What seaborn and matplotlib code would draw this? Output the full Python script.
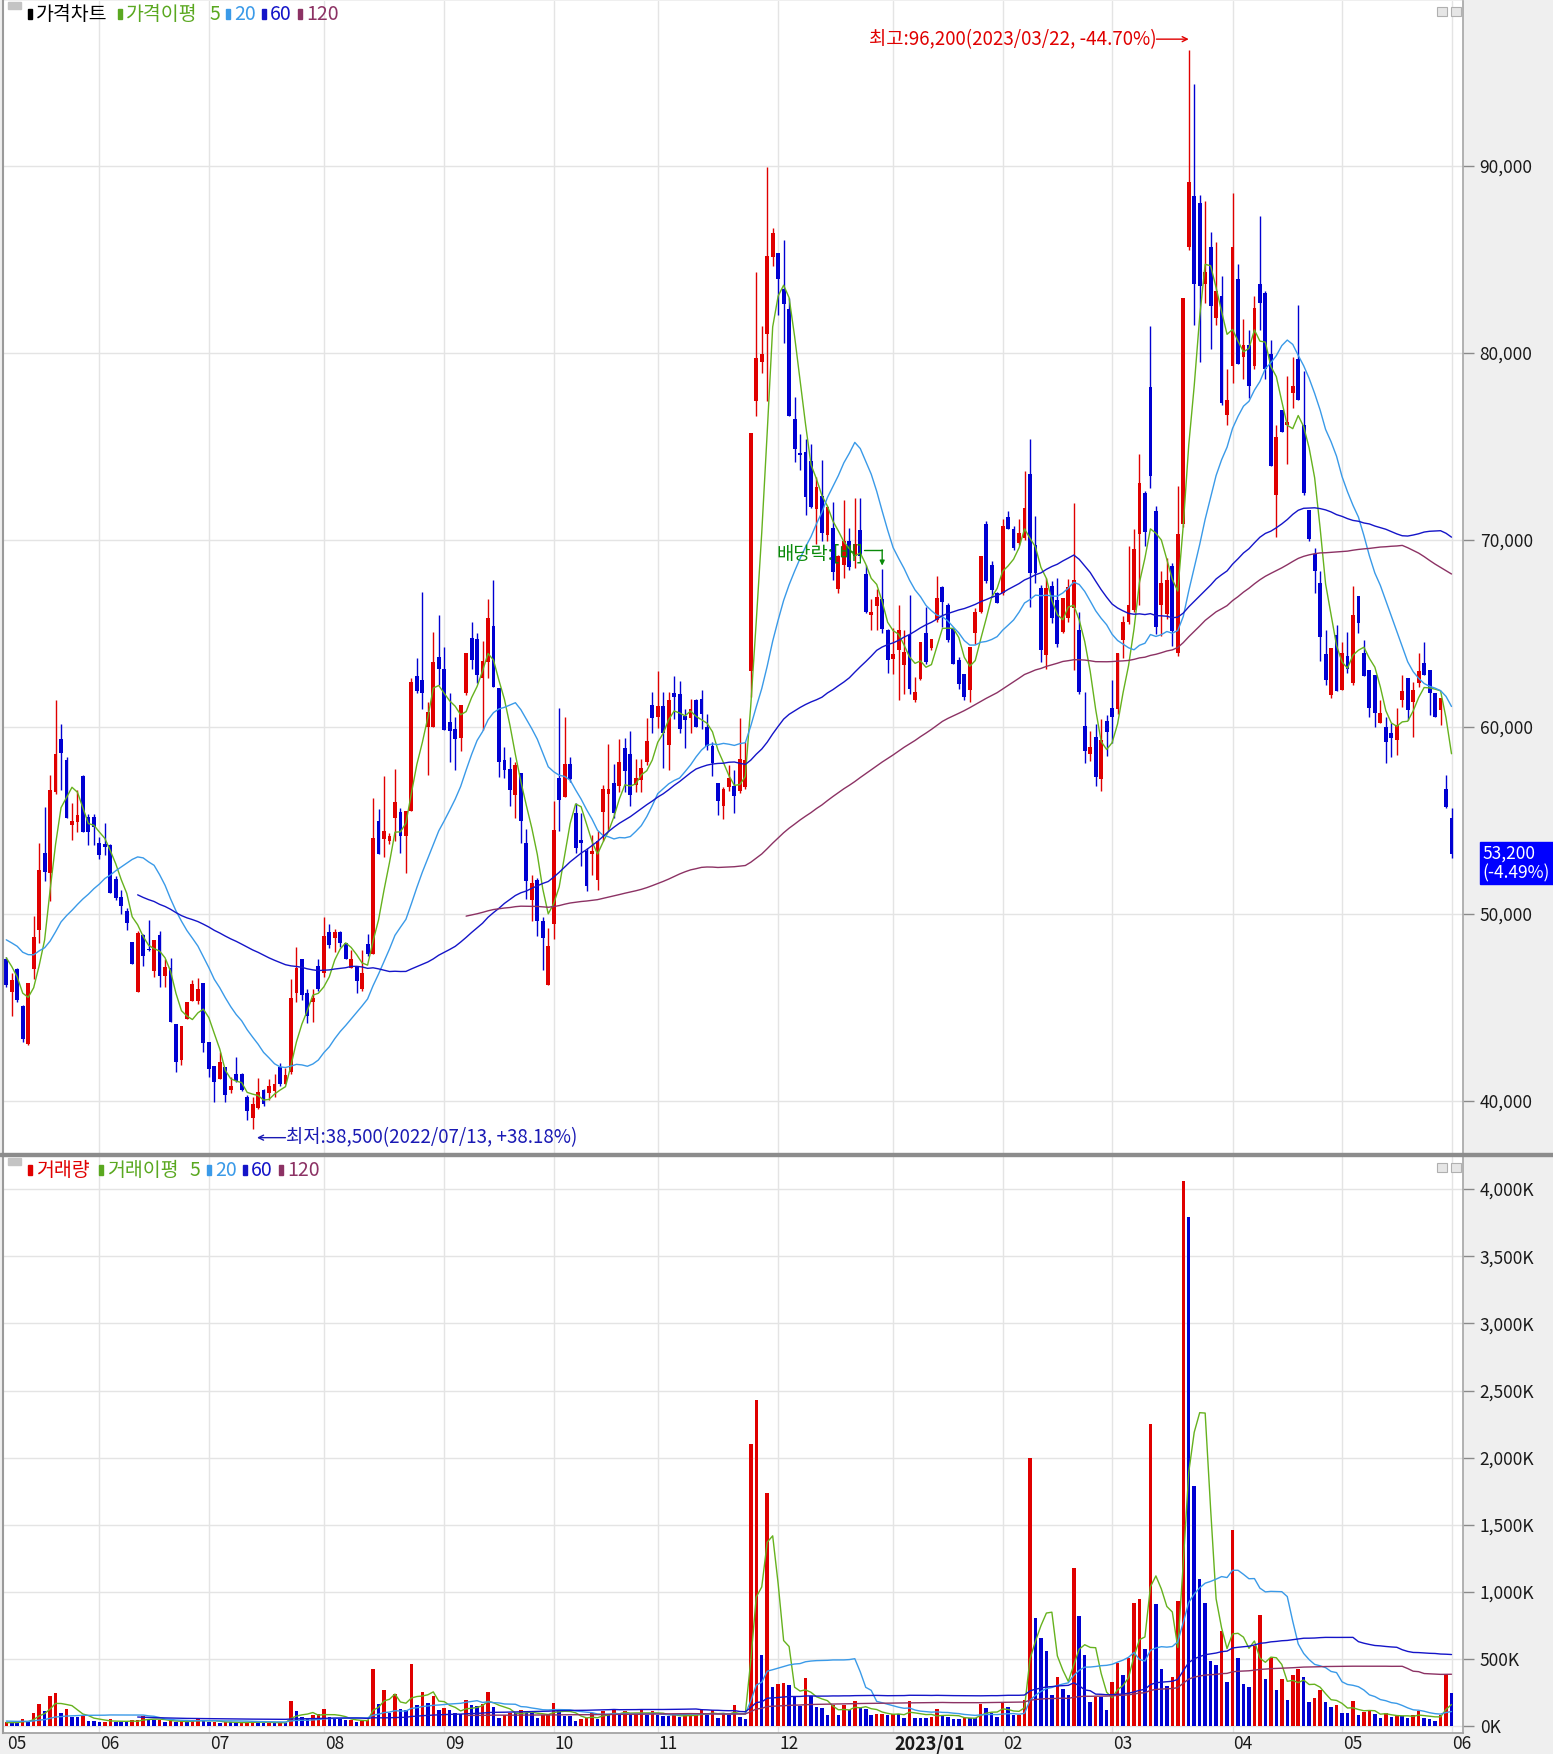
import numpy as np
import pandas as pd
import matplotlib
matplotlib.use("Agg")
import matplotlib.pyplot as plt
from matplotlib.patches import Rectangle
import seaborn as sns

# ------------------------------------------------------------------ data
open_prices = [
    47600, 45820, 47060, 45070, 43030, 47020, 49110, 53230, 52160, 56510,
    59340, 58190, 54730, 54910, 57340, 55180, 55180, 53790, 53720, 53670,
    51840, 50890, 50120, 48490, 45820, 48880, 48120, 46930, 48880, 46670,
    47110, 44100, 42150, 44360, 45340, 45340, 46280, 43150, 41840, 41170,
    41800, 40550, 41450, 41450, 40210, 39060, 39600, 40590, 40400, 40500,
    41780, 40880, 41550, 45760, 47570, 45760, 45280, 47190, 46810, 49000,
    48720, 49040, 48430, 47100, 47190, 45950, 48390, 47860, 54970, 53980,
    53880, 55120, 55410, 54170, 55510, 62680, 62490, 60000, 60000, 63730,
    63100, 60230, 59880, 59380, 61780, 64750, 64680, 62580, 63470, 65390,
    62050, 58220, 57740, 56350, 57510, 53770, 50750, 51820, 49600, 46210,
    49420, 57240, 56210, 58010, 55370, 53950, 53330, 53190, 51820, 55460,
    56420, 56980, 56800, 58840, 58520, 56890, 57150, 58130, 61160, 60500,
    61100, 59000, 61800, 61730, 60580, 60460, 61430, 61500, 60000, 58960,
    56960, 55740, 56770, 56820, 56540, 56770, 63000, 77400, 79470, 80970,
    85120, 85300, 83390, 82350, 76470, 74630, 74700, 74200, 71640, 72330,
    70250, 70600, 67370, 68640, 69910, 69100, 70530, 68180, 65990, 66450,
    66800, 65180, 63640, 64090, 63280, 64890, 61400, 62560, 64980, 64180,
    65700, 67490, 66510, 65200, 63550, 62830, 61940, 64980, 66150, 70810,
    68660, 67170, 67130, 71220, 70540, 69820, 70090, 73490, 69730, 67400,
    63820, 67530, 66770, 65070, 65790, 66330, 65160, 60050, 58530, 59430,
    57190, 60300, 60980, 60920, 64620, 65610, 66250, 70290, 72500, 78140,
    71530, 66510, 66000, 68600, 63910, 70810, 85630, 88360, 88020, 83680,
    85630, 81860, 83030, 76660, 79260, 83940, 79780, 80430, 79260, 83680,
    83160, 79910, 72370, 76920, 76140, 77830, 79650, 76140, 71590, 69250,
    67690, 63870, 61700, 64910, 61960, 63750, 62320, 67000, 63960, 63040,
    62770, 60180, 60000, 59640, 59290, 61430, 62590, 61340, 62320, 63390,
    63040, 61820, 60890, 56640, 55090]
high_prices = [
    47700, 46850, 47100, 45100, 46300, 49860, 53760, 55710, 57390, 61420,
    60140, 58400, 55890, 56630, 57400, 55350, 55350, 54110, 54820, 53700,
    51990, 51280, 50300, 48500, 49060, 48900, 49680, 48600, 49060, 47550,
    47640, 44100, 43970, 45250, 46450, 46580, 46280, 43150, 41840, 42590,
    41800, 41260, 42320, 41500, 40300, 40210, 41200, 40600, 41160, 41450,
    42030, 41740, 46520, 48240, 47570, 45950, 45950, 47570, 49810, 49430,
    49200, 49050, 48450, 48050, 47200, 48050, 48910, 56180, 55600, 57380,
    54300, 57710, 55660, 55510, 62580, 63690, 67210, 61340, 65070, 65980,
    64270, 61780, 60530, 61160, 63910, 65570, 64980, 64570, 66850, 67830,
    62050, 58930, 58400, 58130, 57510, 54500, 52080, 51900, 49800, 49240,
    56000, 60980, 60530, 58400, 55910, 55370, 53510, 54220, 54400, 56900,
    59060, 58010, 59340, 59380, 59790, 58260, 58270, 60440, 61830, 63000,
    61830, 61840, 62700, 62420, 60920, 61500, 61450, 61960, 60690, 59190,
    56970, 56770, 57930, 57700, 60460, 59190, 75710, 84310, 81430, 89950,
    86680, 85300, 86040, 82930, 77630, 75670, 75400, 75100, 73360, 74240,
    71800, 72030, 69150, 72100, 70600, 72210, 72210, 68640, 66800, 67370,
    68410, 65200, 65250, 66510, 65160, 67040, 62650, 64530, 66420, 64710,
    68030, 67500, 66600, 65200, 63730, 62830, 64270, 66330, 69100, 70990,
    68840, 67200, 71110, 71520, 70720, 71110, 73670, 75380, 71250, 67580,
    67940, 67760, 67940, 66900, 67900, 71940, 66150, 61850, 59790, 60140,
    60410, 60600, 62480, 63910, 65920, 69640, 70550, 74580, 72600, 81420,
    71790, 68340, 68990, 68730, 72890, 82900, 96200, 94340, 88440, 88100,
    86460, 85890, 84070, 79130, 88540, 84720, 81780, 81210, 83030, 87320,
    83290, 80690, 76140, 76950, 78740, 79780, 82560, 79000, 71600, 69550,
    68340, 65160, 64200, 65450, 64500, 65040, 67500, 67000, 64640, 63040,
    62770, 61430, 60540, 60180, 60980, 62770, 62600, 62410, 63960, 64550,
    63040, 61820, 61520, 57410, 55630]
low_prices = [
    46100, 44540, 45300, 43150, 43000, 46490, 48440, 51720, 50660, 56400,
    56600, 55090, 53940, 54380, 54380, 53670, 53670, 52910, 53140, 51100,
    50740, 50000, 49110, 47290, 45800, 47200, 48000, 46630, 46050, 46050,
    44180, 41530, 41910, 44360, 45340, 45160, 42590, 41260, 39930, 41170,
    39950, 40400, 40970, 40500, 38970, 38500, 39540, 39700, 40020, 40210,
    40780, 40880, 41450, 45280, 45370, 44130, 44230, 45850, 46620, 48150,
    47950, 48240, 47570, 47100, 45760, 45850, 47760, 47860, 53210, 53020,
    53700, 53880, 53250, 52160, 55510, 61820, 60960, 57420, 60000, 62200,
    59820, 58130, 57690, 58670, 61700, 63080, 62310, 59820, 62580, 62130,
    57330, 57240, 55730, 55110, 53770, 50800, 49590, 48800, 47010, 46210,
    48620, 54400, 56210, 57060, 53240, 52530, 51190, 52080, 51280, 53860,
    54400, 55110, 56530, 56530, 55730, 56530, 56530, 57950, 59640, 59950,
    57810, 57700, 60400, 59650, 58850, 59650, 60000, 59880, 58730, 57350,
    55280, 55050, 56540, 55390, 56430, 56660, 61610, 76590, 78890, 77400,
    84650, 82000, 80510, 76590, 74170, 73710, 71290, 71700, 69790, 69910,
    69900, 67830, 67140, 67950, 68400, 68500, 68990, 66100, 65180, 65180,
    65000, 62880, 62830, 61400, 61760, 61760, 61310, 62500, 63370, 64100,
    65610, 65340, 64530, 63370, 62030, 61430, 61310, 64440, 66060, 67670,
    66950, 66630, 67040, 70540, 69460, 69730, 70000, 66420, 67670, 63460,
    63100, 65520, 64270, 65000, 65600, 63010, 61760, 58080, 58170, 56830,
    56560, 58450, 59100, 60660, 63650, 65480, 66120, 66520, 69640, 72760,
    64950, 64820, 65740, 64300, 63780, 70680, 85500, 81470, 79520, 82640,
    80170, 81470, 77180, 76140, 78350, 79390, 78610, 77570, 79130, 81210,
    78610, 73930, 70160, 75750, 74060, 77050, 77440, 72370, 69900, 67170,
    63520, 62220, 61520, 61880, 61960, 62860, 62230, 65000, 62680, 60540,
    60000, 60180, 58040, 58390, 58480, 61070, 60360, 59460, 62140, 62770,
    60630, 60540, 60090, 55630, 52950]
close_prices = [
    46200, 46450, 45390, 43300, 46280, 48760, 52340, 52250, 56600, 58550,
    58580, 55090, 54960, 55270, 54380, 54380, 54650, 53140, 53580, 51100,
    50830, 50430, 49500, 47290, 48970, 47730, 48050, 48580, 46670, 47160,
    44180, 42060, 43970, 45250, 46220, 45960, 43070, 41700, 40990, 42060,
    40300, 40800, 41070, 40590, 39450, 39830, 40440, 39830, 40780, 40880,
    40880, 41360, 45470, 47100, 45660, 44510, 45470, 45950, 48810, 48340,
    49040, 48430, 47570, 47570, 46420, 46810, 47860, 54020, 53210, 54400,
    54170, 55970, 54130, 55510, 62390, 61910, 61820, 60760, 63440, 63060,
    59820, 59790, 59340, 61160, 63910, 63560, 62760, 63500, 65820, 62130,
    58130, 57690, 56620, 57950, 54930, 51730, 51640, 49600, 48700, 48260,
    54490, 56090, 58010, 57210, 53510, 53770, 51460, 53330, 53860, 56670,
    56670, 55370, 58130, 57600, 56350, 57240, 57780, 59240, 60440, 61100,
    59650, 61400, 61600, 59880, 60350, 60920, 60000, 60690, 58960, 58040,
    56040, 56660, 57230, 56310, 58270, 58200, 75700, 79700, 79930, 85160,
    86380, 83960, 82580, 76590, 74860, 74520, 72300, 71750, 72790, 70370,
    71750, 68290, 69100, 69910, 68530, 69790, 69100, 66110, 66110, 66910,
    65200, 63570, 63870, 65160, 64000, 62030, 61850, 64530, 63460, 64710,
    66860, 66680, 64620, 63370, 62290, 61580, 64270, 66150, 69100, 67760,
    67310, 66630, 70720, 70540, 69550, 70360, 71700, 68210, 68210, 64090,
    67400, 65790, 64440, 66860, 67490, 67850, 61850, 58710, 58890, 57280,
    59300, 59700, 60530, 63910, 65610, 66510, 69510, 73020, 70420, 73410,
    65350, 67690, 67820, 65090, 70290, 82900, 89140, 83680, 83550, 84330,
    82510, 83290, 77310, 77440, 85630, 79390, 80430, 78220, 82380, 82640,
    79130, 73930, 75490, 75750, 76270, 78220, 77440, 72500, 70030, 68340,
    64780, 62490, 64200, 61880, 63960, 63070, 65980, 65540, 62680, 60980,
    60710, 60710, 59200, 59380, 60090, 61880, 60890, 61960, 62950, 62770,
    61790, 60540, 61520, 55700, 53200]
volume_k = [
    33, 33, 25, 58, 33, 103, 170, 113, 225, 245,
    100, 133, 70, 70, 88, 43, 38, 33, 35, 58,
    33, 33, 30, 45, 50, 78, 53, 45, 47, 30,
    45, 33, 38, 33, 45, 60, 38, 33, 35, 28,
    33, 30, 25, 28, 33, 40, 30, 25, 28, 22,
    35, 25, 188, 113, 70, 63, 83, 90, 133, 70,
    60, 55, 45, 48, 35, 40, 45, 428, 165, 270,
    103, 238, 133, 120, 463, 158, 258, 178, 228, 120,
    138, 120, 103, 95, 200, 158, 150, 170, 258, 145,
    65, 83, 103, 103, 120, 103, 103, 63, 83, 90,
    178, 133, 78, 78, 40, 58, 63, 103, 58, 113,
    83, 133, 83, 113, 83, 90, 133, 83, 113, 83,
    80, 78, 85, 70, 83, 86, 88, 120, 83, 120,
    63, 103, 83, 158, 70, 58, 2100, 2430, 532, 1735,
    295, 313, 320, 310, 220, 153, 358, 228, 145, 140,
    88, 158, 88, 158, 120, 188, 138, 130, 83, 90,
    95, 88, 95, 95, 63, 188, 63, 63, 63, 70,
    133, 78, 70, 58, 58, 63, 63, 63, 165, 138,
    101, 68, 178, 145, 82, 88, 200, 1996, 807, 656,
    560, 232, 369, 279, 232, 1176, 820, 533, 180, 220,
    220, 120, 328, 473, 383, 506, 916, 951, 574, 2250,
    910, 429, 301, 369, 930, 4060, 3795, 1791, 1099, 916,
    484, 457, 711, 328, 1463, 506, 314, 295, 601, 826,
    350, 506, 273, 350, 200, 383, 424, 369, 183, 210,
    273, 183, 145, 156, 101, 100, 191, 82, 109, 112,
    90, 63, 101, 68, 82, 80, 63, 82, 115, 63,
    55, 41, 82, 391, 246]
# sessions before the visible window (only feed the moving averages)
pre_window_close = [
    56000, 55200, 54500, 55800, 54000, 53200, 52800, 53500, 52500, 51800,
    52300, 51500, 50800, 51600, 50700, 50000, 49800, 49000, 49600, 48900,
    48900, 48200, 48900, 49500, 48600, 48000, 48400, 49200, 49000, 48500,
    49300, 48800, 48200, 47600, 47400]
pre_window_volume_k = [
    180, 150, 120, 110, 95, 100, 85, 90, 80, 75,
    85, 70, 80, 65, 60, 90, 55, 45, 40, 50,
    38, 42, 48, 35, 40, 45, 52, 38, 42, 40,
    42, 30, 25, 28, 25]
krx_holidays = ["2022-05-05", "2022-06-01", "2022-06-06", "2022-08-15",
                "2022-09-09", "2022-09-12", "2022-10-03", "2022-10-10",
                "2022-12-30", "2023-01-23", "2023-01-24", "2023-03-01",
                "2023-05-01", "2023-05-05", "2023-05-29"]
ex_dividend_date = "2022-12-28"
ma_windows = [5, 20, 60, 120]
price_ticks = [40000, 50000, 60000, 70000, 80000, 90000]
volume_ticks = [0, 500, 1000, 1500, 2000, 2500, 3000, 3500, 4000]

# ------------------------------------------------------------------ style
sns.set_theme(style="white")
plt.rcParams["font.family"] = ["Noto Sans CJK KR", "DejaVu Sans"]
plt.rcParams["axes.unicode_minus"] = False

RED = "#e00000"
BLUE = "#0000d2"
MA_COLORS = {5: "#66b21e", 20: "#3a9ae8", 60: "#1414c8", 120: "#8c3264"}
GRID = "#e4e4e4"

op = np.array(open_prices, float)
hi = np.array(high_prices, float)
lo = np.array(low_prices, float)
cl = np.array(close_prices, float)
vol = np.array(volume_k, float)
n = len(cl)
x = np.arange(n)

dates = pd.bdate_range("2022-05-09", "2023-06-01", freq="C", holidays=krx_holidays)
dates = dates[-n:]


def moving_average(pre, vals, w):
    s = pd.Series(np.concatenate([pre, vals])).rolling(w).mean().to_numpy()
    return s[len(pre):]


W, H = 1553, 1754
fig = plt.figure(figsize=(W / 100, H / 100), dpi=100, facecolor="#efefef")


def fx(px):
    return px / W


def fy(py):
    return 1 - py / H


ax_p = fig.add_axes([fx(3), fy(1153), (1463 - 3) / W, (1153 - 1) / H])
ax_v = fig.add_axes([fx(3), fy(1733), (1463 - 3) / W, (1733 - 1157) / H])
XLIM = (-0.6, 266.1)

month_idx = [i for i in range(n) if i == 0 or dates[i].month != dates[i - 1].month]

# ------------------------------------------------------------------ price pane
ax_p.set_facecolor("white")
for t in price_ticks:
    ax_p.axhline(t, color=GRID, lw=1, zorder=0)
for i in month_idx[1:]:
    ax_p.axvline(i, color=GRID, lw=1, zorder=0)

ccol = np.where(cl >= op, RED, BLUE)
ax_p.vlines(x, lo, hi, colors=ccol, linewidth=1.0, zorder=2)
body_bottom = np.minimum(op, cl)
body_h = np.maximum(np.abs(cl - op), 70)
ax_p.bar(x, body_h, bottom=body_bottom, width=0.7, color=ccol, linewidth=0, zorder=2.5)

for w in ma_windows:
    m = moving_average(np.array(pre_window_close, float), cl, w)
    ok = ~np.isnan(m)
    sns.lineplot(x=x[ok], y=m[ok], ax=ax_p, color=MA_COLORS[w], linewidth=1.0,
                 estimator=None, legend=False, zorder=3)

ax_p.set_xlim(*XLIM)
ax_p.set_ylim(37200, 98800)
ax_p.set_xlabel("")
ax_p.set_ylabel("")
ax_p.yaxis.tick_right()
ax_p.set_yticks(price_ticks)
ax_p.set_yticklabels([f"{t:,}" for t in price_ticks])
ax_p.tick_params(axis="y", right=True, left=False, labelright=True, labelleft=False,
                 length=8, width=1, color="#8a8a8a", pad=4, labelsize=12.5,
                 labelcolor="#1a1a1a")
ax_p.tick_params(axis="x", bottom=False, labelbottom=False)
for s in ["top", "bottom"]:
    ax_p.spines[s].set_visible(False)
ax_p.spines["left"].set_color("#9a9a9a")
ax_p.spines["left"].set_linewidth(1.5)
ax_p.spines["right"].set_color("#a8a8a8")

# annotations: highest / lowest / ex-dividend
last = cl[-1]
hi_i = int(np.argmax(hi))
lo_i = int(np.argmin(lo))
hi_txt = f"최고:{int(hi[hi_i]):,}({dates[hi_i]:%Y/%m/%d}, {(last / hi[hi_i] - 1) * 100:.2f}%)"
lo_txt = f"최저:{int(lo[lo_i]):,}({dates[lo_i]:%Y/%m/%d}, {(last / lo[lo_i] - 1) * 100:+.2f}%)"
y_hi = hi[hi_i] + 560
ax_p.text(hi_i - 5.9, y_hi, hi_txt, color=RED, fontsize=13.5, ha="right", va="center", zorder=5)
ax_p.annotate("", xy=(hi_i, y_hi), xytext=(hi_i - 5.9, y_hi),
              arrowprops=dict(arrowstyle="->", color=RED, lw=1, shrinkA=0, shrinkB=0,
                              mutation_scale=9), zorder=5)
y_lo = lo[lo_i] - 480
ax_p.text(lo_i + 6.1, y_lo, lo_txt, color="#1a1ab4", fontsize=13.5, ha="left", va="center", zorder=5)
ax_p.annotate("", xy=(lo_i + 0.8, y_lo), xytext=(lo_i + 6.0, y_lo),
              arrowprops=dict(arrowstyle="->", color="#1a1ab4", lw=1, shrinkA=0, shrinkB=0,
                              mutation_scale=9), zorder=5)
ex_i = int(np.where(dates == pd.Timestamp(ex_dividend_date))[0][0])
GREEN_T = "#0a8a0a"
ax_p.text(ex_i - 3.5, 69250, "배당락:[배]", color=GREEN_T, fontsize=13.5, ha="right",
          va="center", zorder=5)
ax_p.plot([ex_i - 3.4, ex_i], [69450, 69450], color=GREEN_T, lw=1, zorder=5)
ax_p.annotate("", xy=(ex_i, hi[ex_i] + 200), xytext=(ex_i, 69450),
              arrowprops=dict(arrowstyle="-|>", color=GREEN_T, lw=1, shrinkA=0, shrinkB=0,
                              mutation_scale=7), zorder=5)

# ------------------------------------------------------------------ volume pane
ax_v.set_facecolor("white")
for t in volume_ticks:
    ax_v.axhline(t, color=GRID, lw=1, zorder=0)
for i in month_idx[1:]:
    ax_v.axvline(i, color=GRID, lw=1, zorder=0)

prev_vol = np.concatenate([[pre_window_volume_k[-1]], vol[:-1]])
vcol = np.where(vol > prev_vol, RED, BLUE)
ax_v.bar(x, vol, width=0.64, color=vcol, linewidth=0, zorder=2)
for w in ma_windows:
    m = moving_average(np.array(pre_window_volume_k, float), vol, w)
    ok = ~np.isnan(m)
    sns.lineplot(x=x[ok], y=m[ok], ax=ax_v, color=MA_COLORS[w], linewidth=1.0,
                 estimator=None, legend=False, zorder=3)

ax_v.set_xlim(*XLIM)
ax_v.set_ylim(-49, 4238)
ax_v.set_xlabel("")
ax_v.set_ylabel("")
ax_v.yaxis.tick_right()
ax_v.set_yticks(volume_ticks)
ax_v.set_yticklabels([f"{t:,}K" for t in volume_ticks])
ax_v.tick_params(axis="y", right=True, left=False, labelright=True, labelleft=False,
                 length=8, width=1, color="#8a8a8a", pad=4, labelsize=12.5,
                 labelcolor="#1a1a1a")
ax_v.tick_params(axis="x", bottom=False, labelbottom=False)
ax_v.spines["top"].set_visible(False)
ax_v.spines["bottom"].set_color("#a0a0a0")
ax_v.spines["left"].set_color("#9a9a9a")
ax_v.spines["left"].set_linewidth(1.5)
ax_v.spines["right"].set_color("#a8a8a8")

# pane separator
fig.add_artist(Rectangle((0, fy(1156)), 1, 3 / H, transform=fig.transFigure,
                         color="#8c8c8c", zorder=10))

# month labels
fig.canvas.draw()
for i in month_idx:
    px = ax_v.transData.transform((i, 0))[0]
    d = dates[i]
    if d.month == 1:
        lab, wt, fs = f"{d:%Y/%m}", "bold", 13
    else:
        lab, wt, fs = f"{d:%m}", "normal", 12.5
    fig.text((px + 1) / W, fy(1744), lab, ha="left", va="center", fontsize=fs,
             fontweight=wt, color="#1a1a1a")

# last price box
ypx = ax_p.transData.transform((0, last))[1]
box_top = ypx + 12
fig.add_artist(Rectangle((fx(1480), (box_top - 42) / H), (1553 - 1480) / W, 42 / H,
                         transform=fig.transFigure, color="#0000ff", zorder=10))
prev_close = cl[-2]
fig.text(fx(1482), (box_top - 12) / H, f"{int(last):,}", color="white", fontsize=12.5,
         ha="left", va="center", zorder=11)
fig.text(fx(1482), (box_top - 32) / H, f"({(last / prev_close - 1) * 100:.2f}%)",
         color="white", fontsize=12.5, ha="left", va="center", zorder=11)


# legends
def legend_row(ytop, items):
    fig.add_artist(Rectangle((fx(8), fy(ytop + 8)), 13 / W, 7 / H, transform=fig.transFigure,
                             color="#c4c4c4", zorder=10))
    for xpos, kind, txt, c in items:
        if kind == "mark":
            fig.add_artist(Rectangle((fx(xpos), fy(ytop + 18)), 4 / W, 10 / H,
                                     transform=fig.transFigure, color=c, zorder=10))
        else:
            fig.text(fx(xpos), fy(ytop + 13), txt, color=c, fontsize=14, ha="left",
                     va="center", zorder=10)
    for bx in (1437, 1451):
        fig.add_artist(Rectangle((fx(bx), fy(ytop + 15)), 10 / W, 9 / H,
                                 transform=fig.transFigure, facecolor="#e6e6e6",
                                 edgecolor="#b0b0b0", lw=0.8, zorder=10))


GREEN_L = "#5aa820"
legend_row(1, [(28, "mark", "", "#000000"), (36, "text", "가격차트", "#000000"),
               (118, "mark", "", GREEN_L), (126, "text", "가격이평", GREEN_L),
               (209, "text", "5", GREEN_L),
               (226, "mark", "", MA_COLORS[20]), (234, "text", "20", MA_COLORS[20]),
               (262, "mark", "", MA_COLORS[60]), (270, "text", "60", MA_COLORS[60]),
               (298, "mark", "", MA_COLORS[120]), (306, "text", "120", MA_COLORS[120])])
legend_row(1157, [(28, "mark", "", RED), (36, "text", "거래량", RED),
                  (99, "mark", "", GREEN_L), (107, "text", "거래이평", GREEN_L),
                  (190, "text", "5", GREEN_L),
                  (207, "mark", "", MA_COLORS[20]), (215, "text", "20", MA_COLORS[20]),
                  (243, "mark", "", MA_COLORS[60]), (251, "text", "60", MA_COLORS[60]),
                  (279, "mark", "", MA_COLORS[120]), (287, "text", "120", MA_COLORS[120])])

fig.savefig("out.png", dpi=100, facecolor=fig.get_facecolor())
